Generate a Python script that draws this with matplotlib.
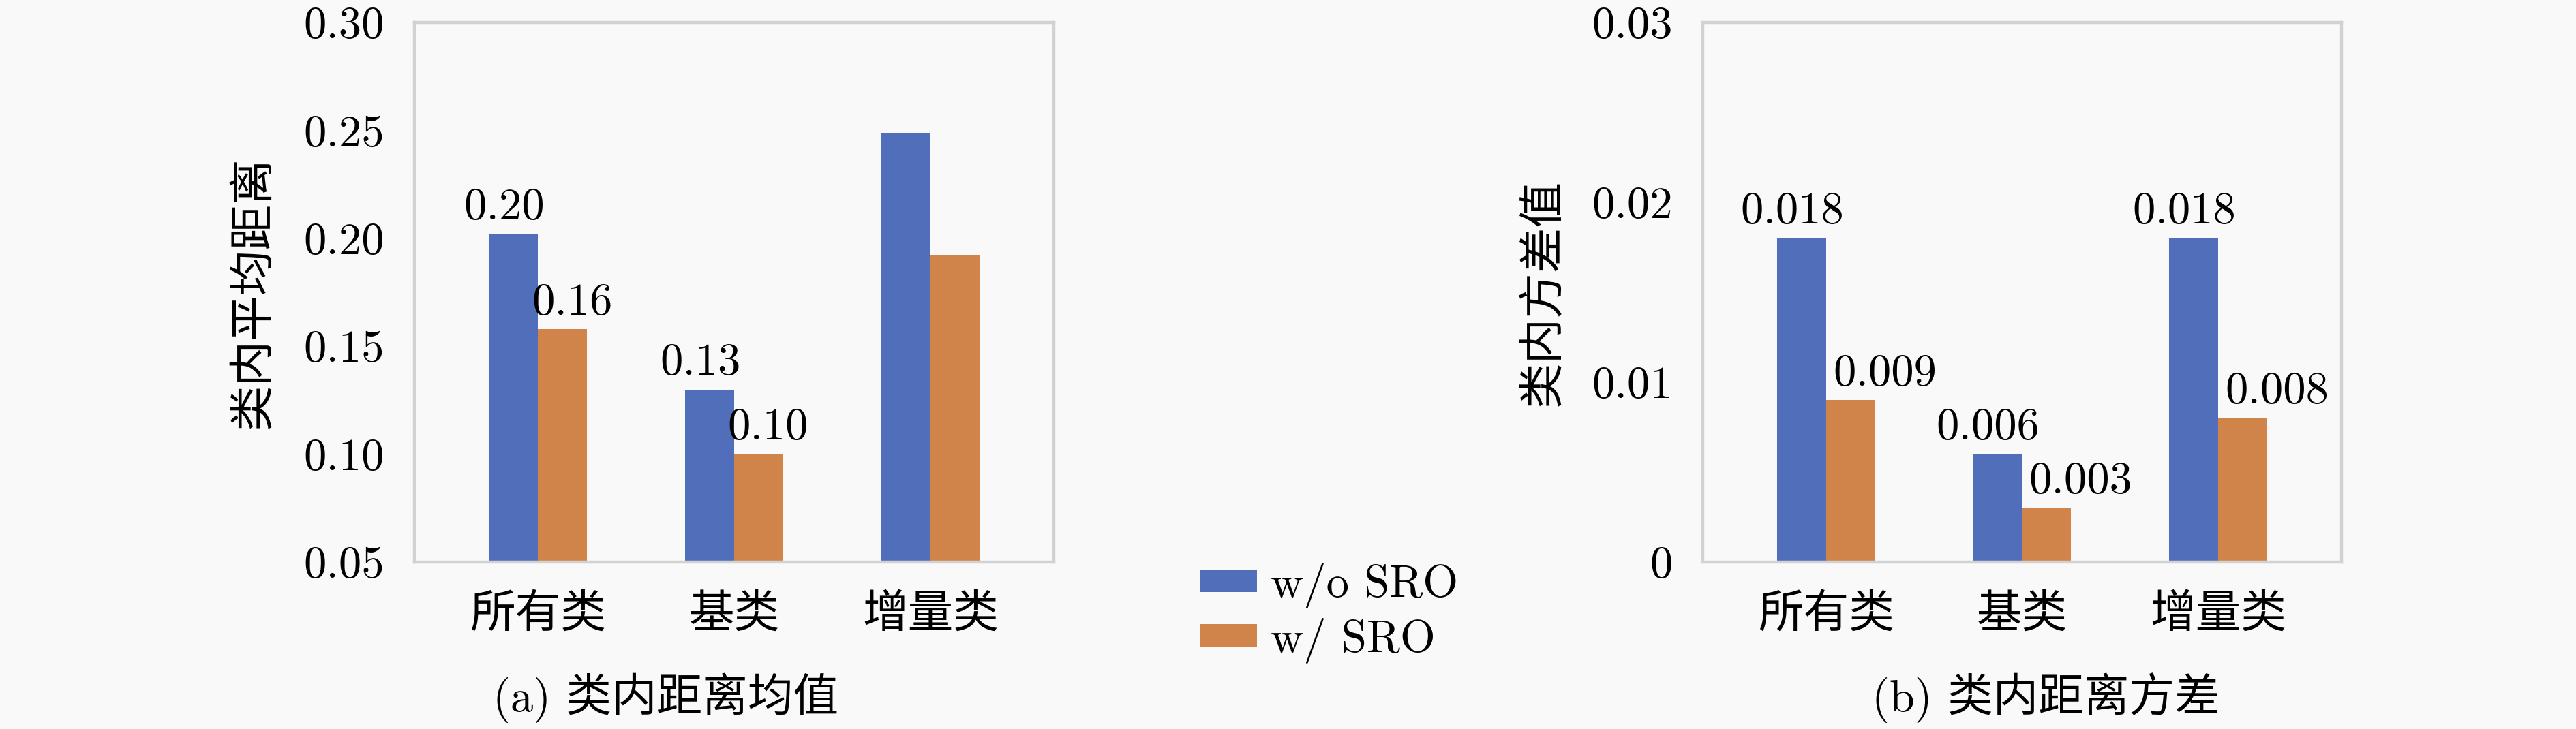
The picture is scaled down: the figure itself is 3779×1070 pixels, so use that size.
import numpy as np
import matplotlib
matplotlib.use('Agg')
import matplotlib.pyplot as plt

plt.rcParams['font.family'] = ['cmr10', 'Noto Sans CJK SC', 'DejaVu Sans']
plt.rcParams['axes.formatter.use_mathtext'] = True

# 数据
categories = ['所有类', '基类', '增量类']
series_names = ['w/o SRO', 'w/ SRO']
mean_wo = [0.202, 0.130, 0.249]
mean_w = [0.158, 0.100, 0.192]
var_wo = [0.018, 0.006, 0.018]
var_w = [0.009, 0.003, 0.008]
mean_labels_wo = ['0.20', '0.13', None]
mean_labels_w = ['0.16', '0.10', None]
var_labels_wo = ['0.018', '0.006', '0.018']
var_labels_w = ['0.009', '0.003', '0.008']
mean_ticks = [0.05, 0.10, 0.15, 0.20, 0.25, 0.30]
mean_ticklabels = ['0.05', '0.10', '0.15', '0.20', '0.25', '0.30']
var_ticks = [0, 0.01, 0.02, 0.03]
var_ticklabels = ['0', '0.01', '0.02', '0.03']

blue = '#506eb9'
orange = '#d0844a'
bg = '#f9f9f9'
fs = 24

fig = plt.figure(figsize=(18.9, 5.35), dpi=200, facecolor=bg)
W, H = 3780, 1070
ax1 = fig.add_axes([608 / W, 1 - 825 / H, (1546 - 608) / W, (825 - 33) / H])
ax2 = fig.add_axes([2498 / W, 1 - 825 / H, (3435 - 2498) / W, (825 - 33) / H])

x = np.arange(len(categories))
w = 0.25


def style(ax, ticks, ticklabels, ylim, ylabel, labelpad):
    ax.set_facecolor(bg)
    ax.set_ylim(*ylim)
    ax.set_xlim(-0.63, 2.63)
    ax.set_yticks(ticks)
    ax.set_yticklabels(ticklabels, fontsize=fs)
    ax.set_xticks(x)
    ax.set_xticklabels(categories, fontsize=fs)
    ax.tick_params(axis='both', length=0)
    ax.tick_params(axis='y', pad=16)
    ax.tick_params(axis='x', pad=17)
    ax.set_ylabel(ylabel, fontsize=fs, labelpad=labelpad)
    for s in ax.spines.values():
        s.set_color('#d2d2d2')
        s.set_linewidth(1.6)


def labels(ax, v1, v2, lab1, lab2, shift2):
    for i in range(len(categories)):
        if lab1[i] is not None:
            ax.annotate(lab1[i], (x[i] - w / 2, v1[i]), xytext=(-5, 3),
                        textcoords='offset points', ha='center', va='bottom', fontsize=fs)
        if lab2[i] is not None:
            ax.annotate(lab2[i], (x[i] + w / 2, v2[i]), xytext=(shift2, 3),
                        textcoords='offset points', ha='center', va='bottom', fontsize=fs)


# (a) 类内距离均值，y 轴从 0.05 开始
mean_bottom = 0.05
b1 = ax1.bar(x - w / 2, np.array(mean_wo) - mean_bottom, w, bottom=mean_bottom, color=blue)
b2 = ax1.bar(x + w / 2, np.array(mean_w) - mean_bottom, w, bottom=mean_bottom, color=orange)
style(ax1, mean_ticks, mean_ticklabels, (0.05, 0.30), '类内平均距离', 15)
labels(ax1, mean_wo, mean_w, mean_labels_wo, mean_labels_w, 5)

# (b) 类内距离方差
ax2.bar(x - w / 2, var_wo, w, color=blue)
ax2.bar(x + w / 2, var_w, w, color=orange)
style(ax2, var_ticks, var_ticklabels, (0, 0.03), '类内方差值', 14)
labels(ax2, var_wo, var_w, var_labels_wo, var_labels_w, 18)

fig.text(977 / W, 1 - 1024 / H, '(a) 类内距离均值', ha='center', va='center', fontsize=fs)
fig.text(3001 / W, 1 - 1024 / H, '(b) 类内距离方差', ha='center', va='center', fontsize=fs)

fig.legend([b1, b2], series_names, loc='center left', bbox_to_anchor=(1760 / W, 1 - 900 / H),
           frameon=False, fontsize=fs, borderpad=0, borderaxespad=0,
           handlelength=1.26, handleheight=0.4, handletextpad=0.3, labelspacing=0.2)

fig.savefig('out.png', dpi=200, facecolor=bg)
